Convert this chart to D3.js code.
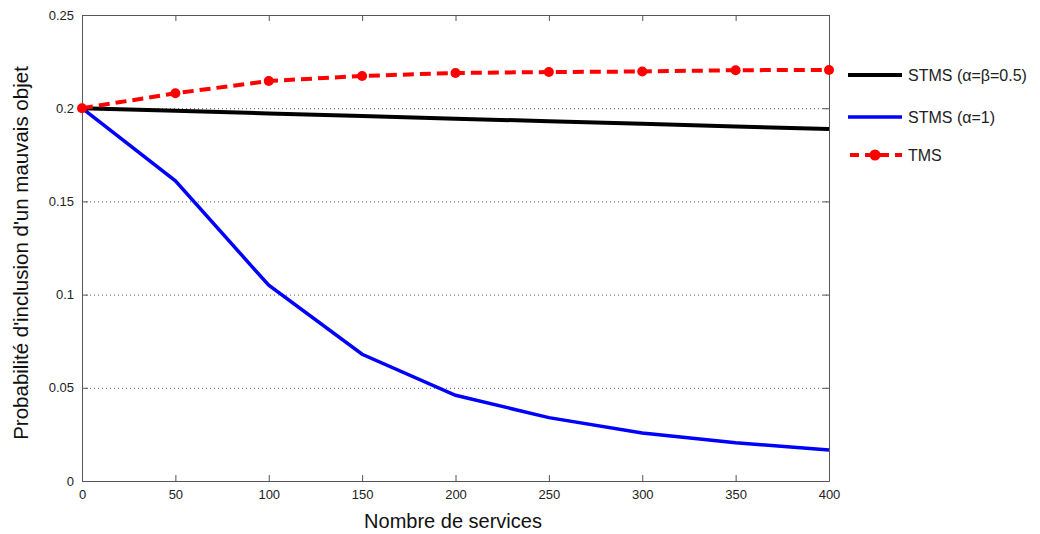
<!DOCTYPE html>
<html><head><meta charset="utf-8">
<script src="https://cdn.jsdelivr.net/npm/d3@7"></script>
<style>body{margin:0;background:#fff}svg{display:block}</style>
</head><body>
<svg id="c" width="1040" height="534"></svg>
<script>
const xValues = [0, 50, 100, 150, 200, 250, 300, 350, 400];
const stmsHalf = [0.2, 0.1986, 0.1972, 0.1958, 0.1944, 0.1930, 0.1916, 0.1902, 0.1888];
const stmsOne = [0.2, 0.161, 0.105, 0.068, 0.046, 0.034, 0.0258, 0.0205, 0.0166];
const tms = [0.2, 0.208, 0.2146, 0.2173, 0.2189, 0.2194, 0.2197, 0.2204, 0.2205];
const xTicks = [0, 50, 100, 150, 200, 250, 300, 350, 400];
const yTicks = [0, 0.05, 0.1, 0.15, 0.2, 0.25];
const yTickLabels = ["0", "0.05", "0.1", "0.15", "0.2", "0.25"];
const seriesNames = ["STMS (\u03b1=\u03b2=0.5)", "STMS (\u03b1=1)", "TMS"];

const svg = d3.select("#c");
const L = 82, R = 829, T = 15, B = 481;
const x = d3.scaleLinear().domain([0, 400]).range([L, R]);
const y = d3.scaleLinear().domain([0, 0.25]).range([B, T]);
const font = "'Liberation Sans', Arial, sans-serif";

// grid
svg.append("g").selectAll("line").data(yTicks.filter(d => d > 0 && d < 0.25)).join("line")
  .attr("x1", L).attr("x2", R).attr("y1", d => y(d)+0.5).attr("y2", d => y(d)+0.5)
  .attr("stroke", "#555").attr("stroke-width", 1).attr("stroke-dasharray", "1,3");

// axes with inward ticks
const axStyle = g => {
  g.selectAll("path").attr("stroke", "#555");
  g.selectAll("line").attr("stroke", "#555");
  g.selectAll("text").attr("fill", "#222").style("font-family", font).style("font-size", "13px");
};
svg.append("g").attr("transform", `translate(0,${B})`)
  .call(d3.axisBottom(x).tickValues(xTicks).tickSizeInner(-6).tickSizeOuter(0).tickPadding(9))
  .call(axStyle);
svg.append("g").attr("transform", `translate(${L},0)`)
  .call(d3.axisLeft(y).tickValues(yTicks).tickFormat((d,i) => yTickLabels[i]).tickSizeInner(-6).tickSizeOuter(0).tickPadding(8))
  .call(axStyle);
svg.append("g").attr("transform", `translate(0,${T})`)
  .call(d3.axisTop(x).tickValues(xTicks).tickFormat("").tickSizeInner(-6).tickSizeOuter(0))
  .call(axStyle);
svg.append("g").attr("transform", `translate(${R},0)`)
  .call(d3.axisRight(y).tickValues(yTicks).tickFormat("").tickSizeInner(-6).tickSizeOuter(0))
  .call(axStyle);

const line = d3.line().x((d,i) => x(xValues[i])).y(d => y(d));

svg.append("path").datum(stmsOne).attr("d", line).attr("fill", "none")
  .attr("stroke", "#0000ff").attr("stroke-width", 3.5);
svg.append("path").datum(stmsHalf).attr("d", line).attr("fill", "none")
  .attr("stroke", "#000").attr("stroke-width", 4);
svg.append("path").datum(tms).attr("d", line).attr("fill", "none")
  .attr("stroke", "#ff0000").attr("stroke-width", 4).attr("stroke-dasharray", "11,6");
svg.append("g").selectAll("circle").data(tms).join("circle")
  .attr("cx", (d,i) => x(xValues[i])).attr("cy", d => y(d)).attr("r", 5)
  .attr("fill", "#ff0000");

// legend
const lg = svg.append("g");
const ly = [75, 117, 155];
lg.append("line").attr("x1", 848).attr("x2", 902).attr("y1", ly[0]).attr("y2", ly[0]).attr("stroke", "#000").attr("stroke-width", 4);
lg.append("line").attr("x1", 848).attr("x2", 902).attr("y1", ly[1]).attr("y2", ly[1]).attr("stroke", "#0000ff").attr("stroke-width", 3.5);
lg.append("line").attr("x1", 850).attr("x2", 902).attr("y1", ly[2]).attr("y2", ly[2]).attr("stroke", "#ff0000").attr("stroke-width", 4).attr("stroke-dasharray", "9,6");
lg.append("circle").attr("cx", 875).attr("cy", ly[2]).attr("r", 5.5).attr("fill", "#ff0000");
lg.selectAll("text").data(seriesNames).join("text")
  .attr("x", 908).attr("y", (d,i) => ly[i] + 6).text(d => d)
  .attr("fill", "#222").style("font-family", font).style("font-size", "16px");

// axis titles
svg.append("text").attr("x", 453).attr("y", 528).attr("text-anchor", "middle")
  .text("Nombre de services").attr("fill", "#111").style("font-family", font).style("font-size", "20px");
svg.append("text").attr("transform", `translate(28,253) rotate(-90)`).attr("text-anchor", "middle")
  .text("Probabilité d'inclusion d'un mauvais objet").attr("fill", "#111").style("font-family", font).style("font-size", "20.5px");
</script>
</body></html>
